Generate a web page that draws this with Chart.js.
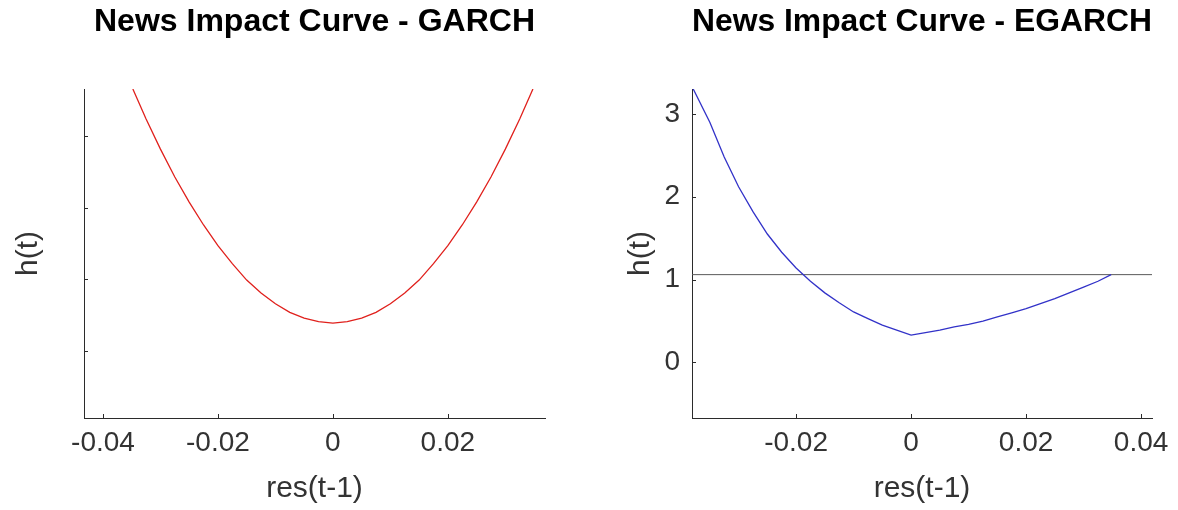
<!DOCTYPE html>
<html>
<head>
<meta charset="utf-8">
<script src="https://cdn.jsdelivr.net/npm/chart.js@4.4.1/dist/chart.umd.min.js"></script>
<style>
  html, body { margin: 0; padding: 0; background: #fff; }
  #wrap { position: relative; width: 1178px; height: 510px; }
  .panel { position: absolute; top: 0; width: 589px; height: 510px; }
</style>
</head>
<body>
<div id="wrap">
  <div class="panel" style="left:0"><canvas id="garch"></canvas></div>
  <div class="panel" style="left:589px"><canvas id="egarch"></canvas></div>
</div>
<script>
// --- Data ---

const garchRes = [-0.0348, -0.0325, -0.030, -0.0275, -0.025, -0.0225, -0.020, -0.0175, -0.015, -0.0125, -0.010, -0.0075, -0.005, -0.0025,
                  0, 0.0025, 0.005, 0.0075, 0.010, 0.0125, 0.015, 0.0175, 0.020, 0.0225, 0.025, 0.0275, 0.030, 0.0325, 0.0348];
const garchH   = [4.66, 4.24, 3.82, 3.43, 3.08, 2.76, 2.47, 2.22, 1.99, 1.81, 1.66, 1.54, 1.46, 1.41,
                  1.39, 1.41, 1.46, 1.54, 1.66, 1.81, 1.99, 2.22, 2.47, 2.76, 3.08, 3.43, 3.82, 4.24, 4.66];

const egarchRes = [-0.0381, -0.035, -0.0325, -0.030, -0.0275, -0.025, -0.0225, -0.020, -0.0175, -0.015, -0.0125, -0.010, -0.0075, -0.005, -0.0025,
                   0, 0.0025, 0.005, 0.0075, 0.010, 0.0125, 0.015, 0.0175, 0.020, 0.0225, 0.025, 0.0275, 0.030, 0.0325, 0.0348];
const egarchH   = [3.33, 2.90, 2.48, 2.12, 1.82, 1.55, 1.33, 1.14, 0.98, 0.84, 0.72, 0.61, 0.53, 0.45, 0.39,
                   0.33, 0.36, 0.39, 0.43, 0.46, 0.50, 0.55, 0.60, 0.65, 0.71, 0.77, 0.84, 0.91, 0.98, 1.06];

const refLineRes = [-0.0381, 0.0419];
const refLineH   = [1.06, 1.06];

const garchXTicks  = [-0.04, -0.02, 0, 0.02];
const garchYTicks  = [1, 2, 3, 4];          // unlabelled in the reference
const egarchXTicks = [-0.02, 0, 0.02, 0.04];
const egarchYTicks = [0, 1, 2, 3];

const FONT = 'Liberation Sans, Arial, Helvetica, sans-serif';
const AXIS = '#2b2b2b';
const TXT = '#333333';

const toPoints = (xs, ys) => xs.map((x, i) => ({ x, y: ys[i] }));

// inward tick marks, MATLAB style
const innerTicks = {
  id: 'innerTicks',
  afterDatasetsDraw(chart) {
    const { ctx, chartArea: a, scales: { x, y } } = chart;
    ctx.save();
    ctx.strokeStyle = AXIS;
    ctx.lineWidth = 1;
    ctx.beginPath();
    x.ticks.forEach(t => {
      const px = Math.round(x.getPixelForValue(t.value)) + 0.5;
      ctx.moveTo(px, a.bottom);
      ctx.lineTo(px, a.bottom - 4);
    });
    y.ticks.forEach(t => {
      const py = Math.round(y.getPixelForValue(t.value)) + 0.5;
      ctx.moveTo(a.left, py);
      ctx.lineTo(a.left + 4, py);
    });
    ctx.stroke();
    ctx.restore();
  }
};

function makeChart(id, c) {
  return new Chart(document.getElementById(id), {
    type: 'line',
    data: { datasets: c.datasets },
    options: {
      responsive: true,
      maintainAspectRatio: false,
      animation: false,
      layout: { padding: { left: 0, right: c.padRight, top: 0, bottom: 0 } },
      elements: { point: { radius: 0 }, line: { tension: 0 } },
      plugins: {
        legend: { display: false },
        tooltip: { enabled: false },
        title: {
          display: true,
          fullSize: false,
          text: c.title,
          color: '#000',
          font: { family: FONT, size: 32, weight: 'bold' },
          padding: { top: 3, bottom: 47.6 }
        }
      },
      scales: {
        x: {
          type: 'linear',
          min: c.xMin,
          max: c.xMax,
          afterBuildTicks: s => { s.ticks = c.xTicks.map(v => ({ value: v })); },
          afterFit: s => { s.height = 92; },
          grid: { display: false, drawTicks: false },
          border: { display: true, color: AXIS, width: 1 },
          ticks: { color: TXT, font: { family: FONT, size: 28 }, padding: 8, maxRotation: 0, callback: v => String(v) },
          title: { display: true, text: 'res(t-1)', color: TXT, font: { family: FONT, size: 30 }, padding: { top: 0, bottom: 3 } }
        },
        y: {
          min: c.yMin,
          max: c.yMax,
          afterBuildTicks: s => { s.ticks = c.yTicks.map(v => ({ value: v })); },
          afterFit: s => { s.width = c.yWidth; },
          grid: { display: false, drawTicks: false },
          border: { display: true, color: AXIS, width: 1 },
          ticks: { display: c.yLabels, color: TXT, font: { family: FONT, size: 28 }, padding: 12, callback: v => String(v) },
          title: { display: true, text: 'h(t)', color: TXT, font: { family: FONT, size: 30 }, padding: { top: c.yTitlePad, bottom: 0 } }
        }
      }
    },
    plugins: [innerTicks]
  });
}

makeChart('garch', {
  title: 'News Impact Curve - GARCH',
  datasets: [
    { data: toPoints(garchRes, garchH), borderColor: '#e0201c', borderWidth: 1.3 }
  ],
  xMin: -0.0433, xMax: 0.0369, xTicks: garchXTicks,
  yMin: 0.063, yMax: 4.66, yTicks: garchYTicks, yLabels: false,
  yWidth: 84, yTitlePad: 11, padRight: 44
});

makeChart('egarch', {
  title: 'News Impact Curve - EGARCH',
  datasets: [
    { data: toPoints(egarchRes, egarchH), borderColor: '#3232c8', borderWidth: 1.3 },
    { data: toPoints(refLineRes, refLineH), borderColor: '#5a5a5a', borderWidth: 1 }
  ],
  xMin: -0.0381, xMax: 0.0419, xTicks: egarchXTicks,
  yMin: -0.67, yMax: 3.30, yTicks: egarchYTicks, yLabels: true,
  yWidth: 103, yTitlePad: 34, padRight: 26
});
</script>
</body>
</html>
